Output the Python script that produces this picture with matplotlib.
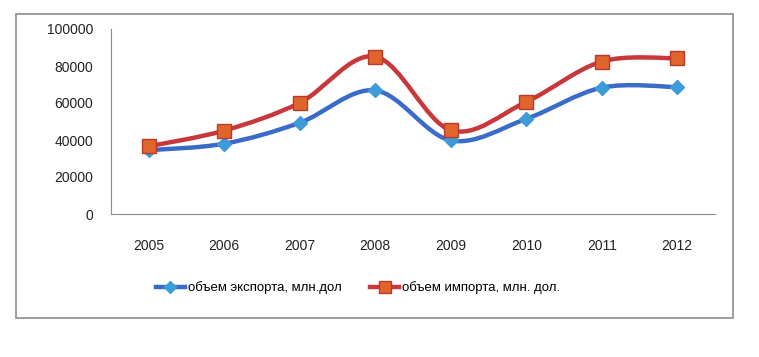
import numpy as np
import matplotlib.pyplot as plt
from matplotlib.path import Path
from matplotlib.patches import PathPatch, Rectangle
from matplotlib.lines import Line2D

years = ['2005', '2006', '2007', '2008', '2009', '2010', '2011', '2012']
export_vals = [34500, 38000, 49300, 66800, 39800, 51400, 68300, 68600]
import_vals = [36600, 45100, 60100, 85100, 45300, 60600, 82400, 84200]
yticks = [0, 20000, 40000, 60000, 80000, 100000]

label_exp = 'объем экспорта, млн.дол'
label_imp = 'объем импорта, млн. дол.'


# сглаженная линия как в Excel (кривые Безье через точки)
def smooth_path(xs, ys):
    pts = np.column_stack([xs, ys]).astype(float)
    n = len(pts)
    verts = [pts[0]]
    codes = [Path.MOVETO]
    for i in range(n - 1):
        p0 = pts[i - 1] if i > 0 else pts[i]
        p1 = pts[i]
        p2 = pts[i + 1]
        p3 = pts[i + 2] if i + 2 < n else pts[i + 1]
        c1 = p1 + (p2 - p0) / 6
        c2 = p2 - (p3 - p1) / 6
        verts += [c1, c2, p2]
        codes += [Path.CURVE4] * 3
    return Path(verts, codes)


plt.rcParams['font.family'] = ['Liberation Sans', 'DejaVu Sans']

fig = plt.figure(figsize=(7.59, 3.57), dpi=100)
fig.patches.append(Rectangle((16 / 759, 1 - 318 / 357), (733 - 16) / 759, (318 - 14) / 357,
                             transform=fig.transFigure, fill=False,
                             edgecolor='#8c8c8c', linewidth=1.2))

ax = fig.add_axes([111 / 759, 1 - 214 / 357, (715 - 111) / 759, (214 - 29) / 357])
x = np.arange(len(years))

ax.add_patch(PathPatch(smooth_path(x, export_vals), fill=False,
                       edgecolor='#3a6bc9', linewidth=3.2, capstyle='round'))
ax.add_patch(PathPatch(smooth_path(x, import_vals), fill=False,
                       edgecolor='#c8373a', linewidth=3.2, capstyle='round'))
ax.plot(x, export_vals, linestyle='none', marker='D', markersize=7.5,
        markerfacecolor='#3d9bd9', markeredgecolor='#3d9bd9')
ax.plot(x, import_vals, linestyle='none', marker='s', markersize=10,
        markerfacecolor='#e0652c', markeredgecolor='#b83a2a', markeredgewidth=1)

ax.set_xlim(-0.5, len(years) - 0.5)
ax.set_ylim(0, 100000)
ax.set_xticks(x)
ax.set_xticklabels(years)
ax.set_yticks(yticks)
ax.set_yticklabels([str(v) for v in yticks])
ax.tick_params(axis='both', length=0, labelsize=10, colors='#222222')
ax.tick_params(axis='x', pad=18)
ax.tick_params(axis='y', pad=13)
for s in ['top', 'right']:
    ax.spines[s].set_visible(False)
ax.spines['left'].set_color('#8c8c8c')
ax.spines['bottom'].set_color('#8c8c8c')

handles = [
    Line2D([], [], color='#3a6bc9', linewidth=3.2, marker='D', markersize=6,
           markerfacecolor='#3d9bd9', markeredgecolor='#3d9bd9'),
    Line2D([], [], color='#c8373a', linewidth=3.2, marker='s', markersize=8,
           markerfacecolor='#e0652c', markeredgecolor='#b83a2a'),
]
fig.legend(handles, [label_exp, label_imp], loc='center',
           bbox_to_anchor=(358 / 759, 1 - 288 / 357), ncol=2, frameon=False,
           fontsize=9.5, handlelength=2.2, handletextpad=0.2, columnspacing=2.2)

fig.savefig('out.png', dpi=100)
